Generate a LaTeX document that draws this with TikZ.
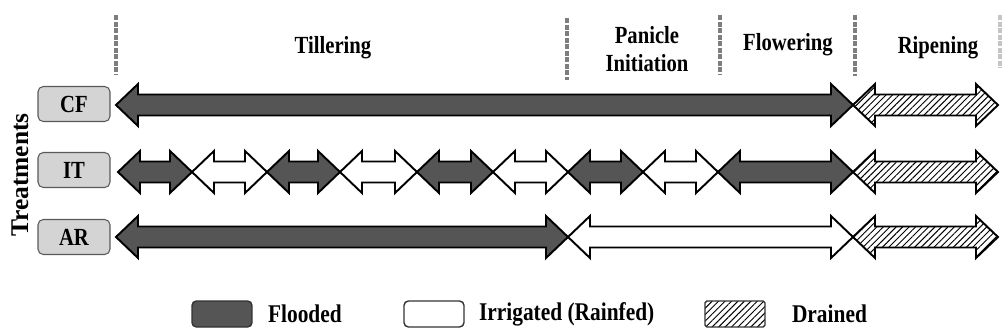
\documentclass[tikz,border=0pt]{standalone}
\usepackage{fontspec}
\setmainfont{Liberation Serif}[FakeStretch=0.84]
\newfontfamily\plainserif{Liberation Serif}
\usetikzlibrary{patterns.meta, positioning}

\definecolor{floodgray}{HTML}{555555}
\definecolor{boxgray}{HTML}{D4D4D4}
\definecolor{divgray}{HTML}{7E7E7E}

% double headed arrow for one phase: style, x from, x to, row y
\newcommand{\phase}[4]{%
  \draw[#1] (#2,#4) -- (#2+22,#4-21) -- (#2+22,#4-10.5) -- (#3-22,#4-10.5)
    -- (#3-22,#4-21) -- (#3,#4) -- (#3-22,#4+21) -- (#3-22,#4+10.5)
    -- (#2+22,#4+10.5) -- (#2+22,#4+21) -- cycle;}

\begin{document}
\begin{tikzpicture}[
    x=0.02cm, y=-0.02cm,
    stage/.style={
        font=\fontsize{14}{15.5}\selectfont\bfseries,
        align=center,
        inner sep=0pt
    },
    divider/.style={
        draw=divgray,
        line width=2.2pt,
        dash pattern=on 3pt off 0.7pt
    },
    treat/.style={
        draw=black!65,
        fill=boxgray,
        rounded corners=3pt,
        line width=0.6pt,
        minimum width=1.44cm,
        minimum height=0.7cm,
        font=\fontsize{14}{16}\selectfont\bfseries
    },
    hatch/.style={pattern={Lines[angle=45, distance=2.6pt, line width=0.55pt]}},
    flooded/.style={draw=black, line width=1.1pt, fill=floodgray},
    irrigated/.style={draw=black, line width=1.1pt, fill=white},
    drained/.style={draw=black, line width=1.1pt, hatch},
    key/.style={
        minimum width=1.2cm,
        minimum height=0.52cm,
        rounded corners=2.5pt,
        line width=0.8pt
    },
    keytext/.style={
        anchor=west,
        inner sep=0pt,
        font=\fontsize{14.5}{16}\selectfont\bfseries
    }
]
\useasboundingbox (0,0) rectangle (1002,335);

% Stages
\node[stage] (till) at (333,48) {Tillering};
\node[stage] (pi) at (647,49) {Panicle\\Initiation};
\node[stage] (flow) at (788,45) {Flowering};
\node[stage] (ripe) at (938,48) {Ripening};

\draw[divider] (116,15) -- (116,75);
\draw[divider] (567,18) -- (567,80);
\draw[divider] (720,15) -- (720,75);
\draw[divider] (855,15) -- (855,76);
\draw[divider, draw=divgray!45] (1000,15) -- (1000,68);

% Treatments
\node[rotate=90, inner sep=0pt, font=\plainserif\bfseries\fontsize{14.5}{16}\selectfont] (treatments) at (20,175) {Treatments};
\node[treat] (cf) at (74,104) {CF};
\node[treat] (it) at (74,170) {IT};
\node[treat] (ar) at (74,237) {AR};

% CF row
\phase{flooded}{116}{853}{105}
\phase{drained}{853}{998}{105}

% IT row
\phase{flooded}{118}{192}{172}
\phase{irrigated}{192}{267}{172}
\phase{flooded}{267}{340}{172}
\phase{irrigated}{340}{417}{172}
\phase{flooded}{417}{493}{172}
\phase{irrigated}{493}{568}{172}
\phase{flooded}{568}{643}{172}
\phase{irrigated}{643}{718}{172}
\phase{flooded}{718}{853}{172}
\phase{drained}{853}{998}{172}

% AR row
\phase{flooded}{116}{568}{237}
\phase{irrigated}{568}{853}{237}
\phase{drained}{853}{998}{237}

% Legend
\node[key, draw=black!80, fill=floodgray] (kflood) at (222,314) {};
\node[keytext, right=0.3cm of kflood] (tflood) {Flooded};
\node[key, draw=black!80, fill=white] (kirr) at (434,314) {};
\node[keytext, right=0.28cm of kirr] (tirr) {Irrigated (Rainfed)};
\node[key, draw=black!80, rounded corners=1pt, hatch] (kdrain) at (735,314) {};
\node[keytext, right=0.52cm of kdrain] (tdrain) {Drained};

\end{tikzpicture}
\end{document}
